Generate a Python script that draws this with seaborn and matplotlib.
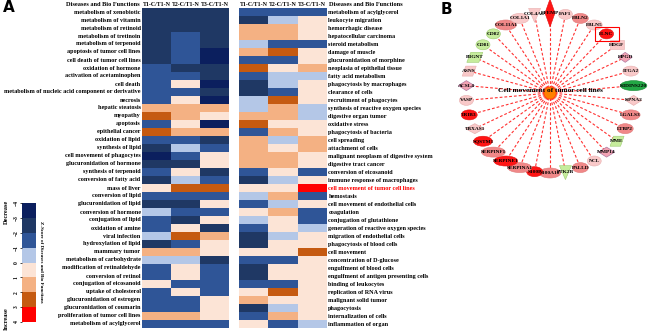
import numpy as np
import pandas as pd
import matplotlib
matplotlib.use("Agg")
import matplotlib.pyplot as plt
import seaborn as sns
from matplotlib.colors import ListedColormap
from matplotlib.patches import Ellipse, Polygon, Rectangle

# ---------------- data ----------------
columns = ["T1-C/T1-N", "T2-C/T1-N", "T3-C/T1-N"]

left_terms = [
    "metabolism of xenobiotic", "metabolism of vitamin", "metabolism of retinoid",
    "metabolism of tretinoin", "metabolism of terpenoid", "apoptosis of tumor cell lines",
    "cell death of tumor cell lines", "oxidation of hormone", "activation of acetaminophen",
    "cell death", "metabolism of nucleic acid component or derivative", "necrosis",
    "hepatic steatosis", "myopathy", "apoptosis", "epithelial cancer", "oxidation of lipid",
    "synthesis of lipid", "cell movement of phagocytes", "glucuronidation of hormone",
    "synthesis of terpenoid", "conversion of fatty acid", "mass of liver", "conversion of lipid",
    "glucuronidation of lipid", "conversion of hormone", "conjugation of lipid",
    "oxidation of amine", "viral infection", "hydroxylation of lipid", "mammary tumor",
    "metabolism of carbohydrate", "modification of retinaldehyde", "conversion of retinol",
    "conjugation of eicosanoid", "uptake of cholesterol", "glucuronidation of estrogen",
    "glucuronidation of coumarin", "proliferation of tumor cell lines",
    "metabolism of acylglycerol",
]
left_t1 = [-2.5, -2.5, -2.5, -2.5, -2.5, -2.5, -2.5, -1.5, -1.5, -1.5, -1.5, -1.5, 1.5, 2.5,
           -1.5, 2.5, -1.5, -2.5, -3.5, -2.5, -1.5, -2.5, 0.5, -1.5, -2.5, -0.5, -1.5, -1.5,
           -0.5, -2.5, 1.5, -0.5, -1.5, -1.5, 0.5, -1.5, -1.5, -1.5, 1.5, -1.5]
left_t2 = [-2.5, -2.5, -2.5, -1.5, -1.5, -1.5, -1.5, -2.5, -1.5, 0.5, -1.5, 0.5, 1.5, 1.5,
           0.5, 1.5, -1.5, -0.5, -1.5, -2.5, 0.5, -0.5, 2.5, -1.5, -2.5, -1.5, -2.5, 0.5,
           2.5, -1.5, 1.5, -0.5, 0.5, 0.5, -1.5, 0.5, -1.5, -1.5, 1.5, -1.5]
left_t3 = [-2.5, -2.5, -2.5, -2.5, -2.5, -3.5, -3.5, -2.5, -2.5, -3.5, -2.5, -3.5, 1.5, 0.5,
           -3.5, 1.5, -2.5, -1.5, 0.5, 0.5, -2.5, -1.5, 2.5, -1.5, 0.5, -1.5, 0.5, -2.5,
           1.5, 0.5, 0.5, -2.5, -1.5, -1.5, -1.5, -1.5, 0.5, 0.5, 0.5, -1.5]

right_terms = [
    "metabolism of acylglycerol", "leukocyte migration", "hemorrhagic disease",
    "hepatocellular carcinoma", "steroid metabolism", "damage of muscle",
    "glucuronidation of morphine", "neoplasia of epithelial tissue", "fatty acid metabolism",
    "phagocytosis by macrophages", "clearance of cells", "recruitment of phagocytes",
    "synthesis of reactive oxygen species", "digestive organ tumor", "oxidative stress",
    "phagocytosis of bacteria", "cell spreading", "attachment of cells",
    "malignant neoplasm of digestive system", "digestive tract cancer",
    "conversion of eicosanoid", "immune response of macrophages",
    "cell movement of tumor cell lines", "hemostasis", "cell movement of endothelial cells",
    "coagulation", "conjugation of glutathione", "generation of reactive oxygen species",
    "migration of endothelial cells", "phagocytosis of blood cells", "cell movement",
    "concentration of D-glucose", "engulfment of blood cells",
    "engulfment of antigen presenting cells", "binding of leukocytes",
    "replication of RNA virus", "malignant solid tumor", "phagocytosis",
    "internalization of cells", "inflammation of organ",
]
right_t1 = [-1.5, -2.5, 1.5, 1.5, -0.5, 1.5, -1.5, 2.5, -1.5, -2.5, -2.5, -0.5, -0.5, 1.5,
            2.5, -1.5, 1.5, 1.5, 1.5, 1.5, -1.5, -2.5, 0.5, -0.5, -1.5, 0.5, -0.5, -1.5,
            -2.5, -2.5, 0.5, -1.5, -2.5, -2.5, -1.5, 0.5, 1.5, -2.5, -1.5, 0.5]
right_t2 = [-1.5, -0.5, 1.5, 1.5, -1.5, 2.5, -1.5, 0.5, -0.5, -0.5, -1.5, 2.5, 1.5, 1.5,
            0.5, 1.5, -0.5, 0.5, 1.5, 1.5, 0.5, -0.5, 0.5, 1.5, -0.5, 1.5, 0.5, 0.5,
            -0.5, 0.5, 0.5, -1.5, 0.5, 0.5, -1.5, 2.5, 0.5, -0.5, 1.5, -1.5]
right_t3 = [-1.5, 0.5, 0.5, 0.5, -1.5, 0.5, 0.5, 1.5, -0.5, 0.5, 0.5, 0.5, -0.5, -0.5,
            0.5, 0.5, 1.5, 1.5, 0.5, 0.5, -1.5, 0.5, 3.5, -1.5, 0.5, -1.5, -1.5, -0.5,
            0.5, 0.5, 2.5, 0.5, 0.5, 0.5, 0.5, 0.5, 0.5, 0.5, 0.5, -0.5]
highlight_term = "cell movement of tumor cell lines"

cbar_ticks = [-4, -3, -2, -1, 0, 1, 2, 3, 4]
palette = ["#0b1f5e", "#1f3864", "#2f5597", "#b4c7e7",
           "#fce4d6", "#f4b183", "#c55a11", "#ff0000"]

# network (panel B)
hub_label = "Cell movement of tumor cell lines"
genes = ["ACSL4", "ASNS", "B3GNT", "CD81", "CD82", "COL11A1", "COL1A1", "COL4A6",
         "EFEMP", "FAF1", "FBLN2", "FBLN5", "FLNC", "HDGF", "HPGD", "ITGA2", "KIDINS220",
         "KPNA2", "LGALS3", "LTBP2", "MME", "MMP14", "NCL", "PALLD", "PTK2B", "S100A10",
         "S100P", "SERPINA1", "SERPINE1", "SERPINF1", "SQSTM1", "TBXAS1", "TRIB3", "VASP"]
gene_level = ["pink", "lightpink", "green", "green", "green", "salmon", "lightpink",
              "lightpink", "red", "lightpink", "salmon", "lightpink", "red", "lightpink",
              "pink", "lightpink", "darkgreen", "lightpink", "salmon", "salmon", "green",
              "pink", "lightpink", "salmon", "green", "salmon", "red", "salmon", "red",
              "salmon", "red", "lightpink", "red", "lightpink"]
gene_shape = ["d", "p", "p", "e", "e", "e", "e", "t", "D", "e", "e", "e", "e", "r",
              "d", "e", "e", "d", "e", "e", "p", "d", "e", "e", "t", "e",
              "e", "e", "e", "e", "e", "d", "e", "e"]
boxed_gene = "FLNC"

# ---------------- figure ----------------
W, H = 650, 333
fig = plt.figure(figsize=(6.5, 3.33), dpi=100)
SERIF = ["Liberation Serif", "DejaVu Serif"]


def ax_px(x0, y0, x1, y1):
    return fig.add_axes([x0 / W, 1 - y1 / H, (x1 - x0) / W, (y1 - y0) / H])


cmap = ListedColormap(palette)
dfL = pd.DataFrame({c: v for c, v in zip(columns, [left_t1, left_t2, left_t3])}, index=left_terms)
dfR = pd.DataFrame({c: v for c, v in zip(columns, [right_t1, right_t2, right_t3])}, index=right_terms)

axL = ax_px(142, 8, 229, 328)
axR = ax_px(239, 8, 327, 328)
cax = ax_px(22, 203, 36, 322)

sns.heatmap(dfL, ax=axL, cmap=cmap, vmin=-4, vmax=4, cbar=True, cbar_ax=cax,
            cbar_kws={"ticks": cbar_ticks}, xticklabels=True, yticklabels=True)
sns.heatmap(dfR, ax=axR, cmap=cmap, vmin=-4, vmax=4, cbar=False,
            xticklabels=True, yticklabels=True)

lab_fs = 4.4
for ax in (axL, axR):
    ax.set_xlabel("")
    ax.set_ylabel("")
    ax.xaxis.tick_top()
    ax.tick_params(length=0, pad=1)
    ax.set_xticklabels(columns, rotation=0, fontsize=4.2, fontweight="bold", family=SERIF)

axL.set_yticklabels(left_terms, rotation=0, fontsize=lab_fs, fontweight="bold", family=SERIF)
axR.yaxis.tick_right()
axR.set_yticklabels(right_terms, rotation=0, fontsize=lab_fs, fontweight="bold", family=SERIF)
for t in axR.get_yticklabels():
    t.set_ha("left")
    if t.get_text() == highlight_term:
        t.set_color("red")

# colorbar
cax.invert_yaxis()
cax.yaxis.set_ticks_position("left")
cax.tick_params(length=1.5, width=0.5, pad=1, labelsize=4)
for t in cax.get_yticklabels():
    t.set_rotation(90)
    t.set_va("center")
    t.set_fontweight("bold")
    t.set_family(SERIF)
for s in cax.spines.values():
    s.set_visible(False)
fig.text(39 / W, 1 - 262 / H, "Z-Score of Diseases and Bio Functions", rotation=270,
         ha="left", va="center", fontsize=3.6, fontweight="bold", family=SERIF)
fig.text(6 / W, 1 - 200 / H, "Decrease", rotation=90, ha="center", va="top",
         fontsize=4.6, fontweight="bold", family=SERIF)
fig.text(6 / W, 1 - 330 / H, "Increase", rotation=90, ha="center", va="bottom",
         fontsize=4.6, fontweight="bold", family=SERIF)

# headers
fig.text(140 / W, 1 - 4 / H, "Diseases and Bio Functions", ha="right", va="center",
         fontsize=4.6, fontweight="bold", family=SERIF)
fig.text(329 / W, 1 - 4 / H, "Diseases and Bio Functions", ha="left", va="center",
         fontsize=4.6, fontweight="bold", family=SERIF)
fig.text(3 / W, 1 - 8 / H, "A", ha="left", va="center", fontsize=11, fontweight="bold",
         family="DejaVu Sans")
fig.text(441 / W, 1 - 9 / H, "B", ha="left", va="center", fontsize=11, fontweight="bold",
         family="DejaVu Sans")

# ---------------- network ----------------
axB = fig.add_axes([0, 0, 1, 1])
axB.set_xlim(0, W)
axB.set_ylim(H, 0)
axB.axis("off")
axB.patch.set_alpha(0)

fills = {"red": "#ff1414", "salmon": "#f08888", "lightpink": "#f9c9c9", "pink": "#f3a3b3",
         "green": "#c6ec9c", "darkgreen": "#23a845"}
edges = {"red": "#e01010", "salmon": "#e07878", "lightpink": "#e8b0b0", "pink": "#b07aa0",
         "green": "#9ccc70", "darkgreen": "#178a35"}

cx, cy, rx, ry = 550, 93, 84, 80
n = len(genes)
start = genes.index("EFEMP")
theta = np.deg2rad((np.arange(n) - start) * 360.0 / n)
xs = cx + rx * np.sin(theta)
ys = cy - ry * np.cos(theta)

for x, y in zip(xs, ys):
    axB.plot([cx, x], [cy, y], color="#ff3030", lw=0.8, ls=(0, (2.5, 1.8)), zorder=2)

for g, lvl, shp, x, y in zip(genes, gene_level, gene_shape, xs, ys):
    fc, ec = fills[lvl], edges[lvl]
    w = max(14, 2.6 * len(g) + 3)
    h = 10
    if shp == "e":
        p = Ellipse((x, y), w, h, fc=fc, ec=ec, lw=0.4)
    elif shp == "D":
        p = Polygon([(x, y - 14), (x + 5, y), (x, y + 14), (x - 5, y)], fc=fc, ec=ec, lw=0.4)
    elif shp == "d":
        p = Polygon([(x - w / 2, y), (x, y - 5), (x + w / 2, y), (x, y + 5)], fc=fc, ec=ec, lw=0.5)
    elif shp == "p":
        p = Polygon([(x - w / 2, y + 5), (x - w / 4, y - 5), (x + w / 2, y - 5), (x + w / 4, y + 5)],
                    fc=fc, ec=ec, lw=0.4)
    elif shp == "t":
        p = Polygon([(x - 6, y - 6), (x + 6, y - 6), (x, y + 8)], fc=fc, ec=ec, lw=0.4)
    else:
        p = Rectangle((x - w / 2, y - 4.5), w, 9, fc=fc, ec=ec, lw=0.4)
    p.set_zorder(3)
    axB.add_patch(p)
    axB.text(x, y, g, ha="center", va="center", fontsize=3.9, fontweight="bold",
             family=SERIF, zorder=5)
    if g == boxed_gene:
        axB.add_patch(Rectangle((x - 12, y - 7), 24, 14, fill=False, ec="red", lw=0.8, zorder=4))

axB.add_patch(Ellipse((cx, cy), 12, 12, fc="#ff8000", ec="#ff5000", lw=0.5, zorder=4))
axB.text(cx, cy - 2, hub_label, ha="center", va="center", fontsize=5.3, fontweight="bold",
         family=SERIF, zorder=6)

fig.savefig("out.png", dpi=100)
